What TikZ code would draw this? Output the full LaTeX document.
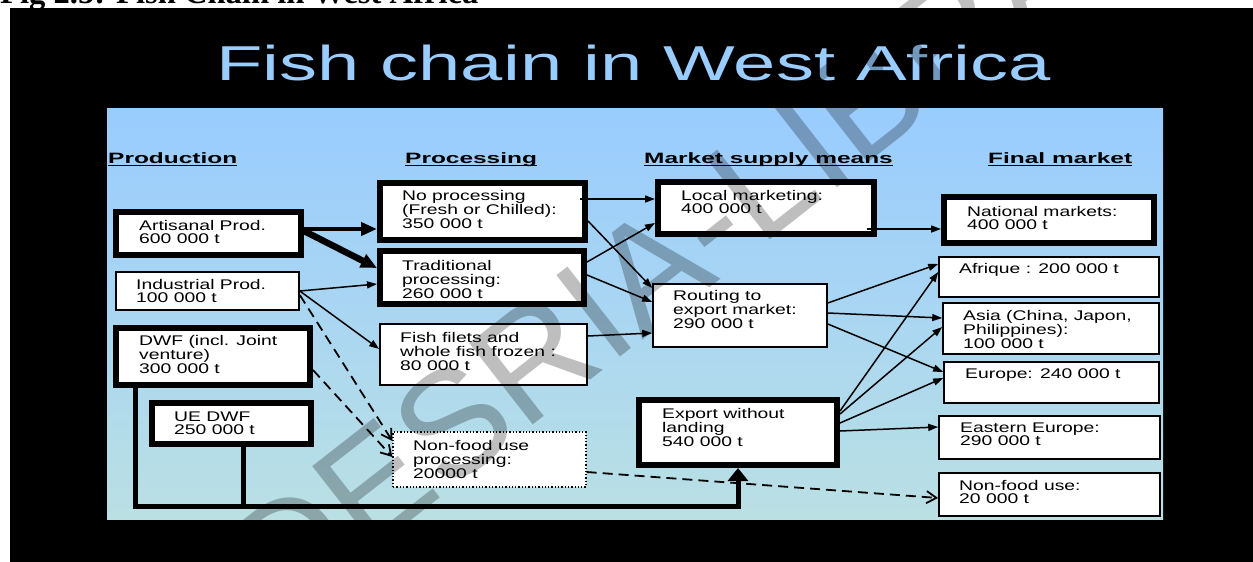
\documentclass[tikz,border=0pt]{standalone}
\usepackage{fontspec}
\usetikzlibrary{arrows.meta,fit,calc}
\newfontfamily\boxfont[FakeStretch=1.38]{Liberation Sans}
\newfontfamily\hdrfont[FakeStretch=1.63]{Liberation Sans}
\newfontfamily\ttlfont[FakeStretch=1.55]{Liberation Sans}
\newfontfamily\capfont{Liberation Serif}
\newfontfamily\wmfont{Liberation Sans}
\definecolor{ttlblue}{RGB}{153,204,255}
\definecolor{paneltop}{RGB}{153,204,255}
\definecolor{panelbot}{RGB}{186,224,228}
\definecolor{wmgray}{RGB}{190,190,190}
\newcommand\mlines[1]{\begin{tabular}[t]{@{}l@{}}#1\end{tabular}}
\begin{document}
\begin{tikzpicture}[x=1pt,y=-1pt,
  thickbox/.style={draw, line width=6pt, fill=white, inner sep=0pt},
  thinbox/.style={draw, line width=1.6pt, fill=white, inner sep=0pt},
  dotbox/.style={draw, line width=1.3pt, dotted, fill=white, inner sep=0pt},
  txt/.style={anchor=base west, inner sep=0pt, font=\boxfont\fontsize{14}{13.5}\selectfont},
  hdr/.style={anchor=base west, inner sep=0pt, font=\hdrfont\bfseries\fontsize{15}{18}\selectfont},
  uline/.style={line width=1.7pt},
  arr/.style={line width=1.5pt, -{Triangle[length=10pt,width=7pt]}},
  dasharr/.style={line width=1.8pt, dash pattern=on 10pt off 6pt, -{Straight Barb[length=10pt,width=12pt]}},
  bigarr/.style={line width=4.5pt, -{Triangle[length=16pt,width=13pt]}},
  fatarr/.style={line width=6.5pt, -{Triangle[length=16pt,width=14pt]}},
  fat/.style={line width=5pt},
  fatup/.style={line width=5pt, -{Triangle[length=13pt,width=20pt]}}]
\useasboundingbox (0,0) rectangle (1253,562);
\clip (0,0) rectangle (1253,562);
\fill[white] (0,0) rectangle (1253,562);
% caption (cut off at top)
\node[anchor=base west, inner sep=0pt, font=\capfont\bfseries\fontsize{32.6}{34}\selectfont] (cap) at (0,4) {Fig 2.5: Fish Chain in West Africa};
% black slide
\fill[black] (10,8) rectangle (1253,562);
\shade[top color=paneltop, bottom color=panelbot] (107,108) rectangle (1163,519);
% title
\node[anchor=base west, inner sep=0pt, text=ttlblue, font=\ttlfont\fontsize{49}{55}\selectfont] (title) at (216,80) {Fish chain in West Africa};
% headers
\node[hdr] (h1) at (108,163.5) {Production\ };
\node[hdr] (h2) at (405,163.5) {Processing};
\node[hdr] (h3) at (644,163.5) {Market supply means};
\node[hdr] (h4) at (988,163.5) {Final market};
\foreach \h in {h1,h2,h3,h4}{\draw[uline] ([yshift=-2pt]\h.base west) -- ([yshift=-2pt]\h.base east);}
% boxes
\node[thickbox, fit={(116,212) (301,255)}] (art) {};
\node[thinbox, fit={(116,272) (299,310)}] (ind) {};
\node[thickbox, fit={(116,328) (310,385)}] (dwf) {};
\node[thickbox, fit={(152,403) (311,444)}] (ue) {};
\node[thickbox, fit={(380,183) (585,240)}] (nop) {};
\node[thickbox, fit={(380,251) (584,304)}] (trad) {};
\node[thinbox, fit={(380,324) (587,385)}] (fil) {};
\node[dotbox, fit={(393,432) (586,487)}] (nfp) {};
\node[thickbox, fit={(658,182) (874,234)}] (local) {};
\node[thinbox, fit={(653,284) (827,347)}] (rout) {};
\node[thickbox, fit={(639,400) (837,465)}] (exp) {};
\node[thickbox, fit={(944,197) (1154,243)}] (nat) {};
\node[thinbox, fit={(939,257) (1159,297)}] (afr) {};
\node[thinbox, fit={(943,303) (1159,354)}] (asia) {};
\node[thinbox, fit={(944,362) (1159,403)}] (eur) {};
\node[thinbox, fit={(939,416) (1160,459)}] (east) {};
\node[thinbox, fit={(939,473) (1160,516)}] (nfu) {};
% texts
\node[txt] (tart) at (139,230) {\mlines{Artisanal Prod.\\600 000 t}};
\node[txt] (tind) at (136,289) {\mlines{Industrial Prod.\\100 000 t}};
\node[txt] (tdwf) at (139,345) {\mlines{DWF (incl. Joint\\venture)\\300 000 t}};
\node[txt] (tue) at (174,421) {\mlines{UE DWF\\250 000 t}};
\node[txt] (tnop) at (402,200) {\mlines{No processing\\(Fresh or Chilled):\\350 000 t}};
\node[txt] (ttrad) at (402,270) {\mlines{Traditional\\processing:\\260 000 t}};
\node[txt] (tfil) at (400,342) {\mlines{Fish filets and\\whole fish frozen :\\80 000 t}};
\node[txt] (tnfp) at (413,450) {\mlines{Non-food use\\processing:\\20000 t}};
\node[txt] (tloc) at (681,200) {\mlines{Local marketing:\\400 000 t}};
\node[txt] (trout) at (673,300) {\mlines{Routing to\\export market:\\290 000 t}};
\node[txt] (texp) at (662,418) {\mlines{Export without\\landing\\540 000 t}};
\node[txt] (tnat) at (967,216) {\mlines{National markets:\\400 000 t}};
\node[txt] (tafr) at (959,273) {Afrique : 200 000 t};
\node[txt] (tasia) at (963,320) {\mlines{Asia (China, Japon,\\Philippines):\\100 000 t}};
\node[txt] (teur) at (965,378) {Europe: 240 000 t};
\node[txt] (teast) at (960,432) {\mlines{Eastern Europe:\\290 000 t}};
\node[txt] (tnfu) at (959,490) {\mlines{Non-food use:\\20 000 t}};
% connectors
\draw[bigarr] (art.east |- 0,229) -- (nop.west |- 0,229);
\draw[fatarr] (art.east |- 0,231) -- (trad.west |- 0,268);
\draw[arr] (ind.east |- 0,291) -- (trad.west |- 0,284);
\draw[arr] (ind.east |- 0,291) -- (fil.west |- 0,349);
\draw[dasharr] (ind.east |- 0,295) -- (nfp.west |- 0,441);
\draw[dasharr] (dwf.east |- 0,370) -- (nfp.west |- 0,457);
\draw[arr] ($(nop.east |- 0,199)+(-8,0)$) -- (local.west |- 0,199);
\draw[arr] (nop.east |- 0,221) -- (rout.west |- 0,288);
\draw[arr] (trad.east |- 0,262) -- (local.west |- 0,223);
\draw[arr] (trad.east |- 0,275) -- (rout.west |- 0,302);
\draw[arr] (fil.east |- 0,336) -- (rout.west |- 0,333);
\draw[arr] ($(local.east |- 0,229)+(-10,0)$) -- (nat.west |- 0,229);
\draw[arr] (rout.east |- 0,303) -- (afr.west |- 0,264);
\draw[arr] (rout.east |- 0,313) -- (asia.west |- 0,318);
\draw[arr] (rout.east |- 0,324) -- (eur.west |- 0,372);
\draw[arr] (exp.east |- 0,411) -- (afr.west |- 0,272);
\draw[arr] (exp.east |- 0,414) -- (asia.west |- 0,327);
\draw[arr] (exp.east |- 0,423) -- (eur.west |- 0,378);
\draw[arr] (exp.east |- 0,431) -- (east.west |- 0,427);
\draw[dasharr] (nfp.east |- 0,472) -- (nfu.west |- 0,498);
\draw[fat] (ue.south -| 243,0) -- (243,506);
\draw[fatup] (dwf.south -| 135,0) |- (exp.south |- 0,506) -- (exp.south);
% watermark
\begin{scope}[blend mode=multiply]
\node[rotate=38, text=wmgray, inner sep=0pt, font=\wmfont\fontsize{150}{150}\selectfont] (wm) at (652,267) {CODESRIA-LIBRARY};
\end{scope}
\end{tikzpicture}
\end{document}
